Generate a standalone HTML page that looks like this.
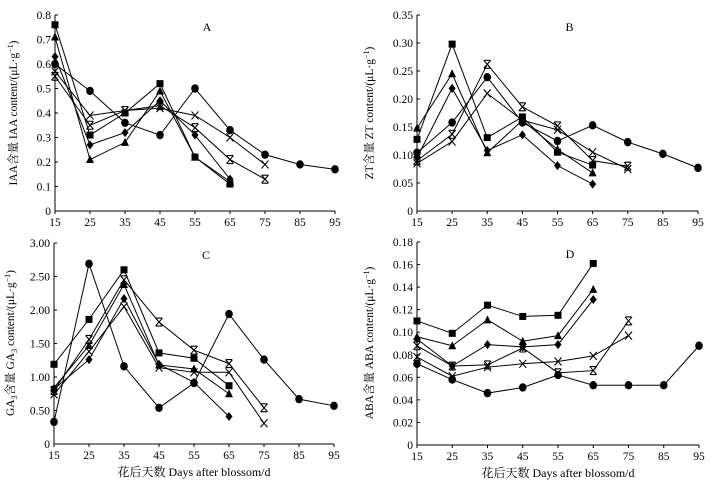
<!DOCTYPE html>
<html><head><meta charset="utf-8"><style>
body{margin:0;background:#fff}
svg text{font-family:"Liberation Serif","Noto Serif CJK SC",serif;fill:#000}
</style></head><body>
<svg id="c" width="716" height="482" viewBox="0 0 716 482"></svg>
<script>
const days=[15,25,35,45,55,65,75,85,95];
const seriesNames=["square","triangle","diamond","circle","cross","asterisk"];
const iaaSquare=[0.76,0.31,0.40,0.52,0.22,0.11];
const iaaTriangle=[0.71,0.21,0.28,0.49,0.22,0.12];
const iaaDiamond=[0.63,0.27,0.32,0.45,0.31,0.13];
const iaaCircle=[0.60,0.49,0.36,0.31,0.50,0.33,0.23,0.19,0.17];
const iaaCross=[0.57,0.39,0.41,0.42,0.39,0.30,0.19];
const iaaAster=[0.55,0.35,0.41,0.43,0.34,0.21,0.13];
const ztSquare=[0.128,0.298,0.131,0.168,0.105,0.082];
const ztTriangle=[0.148,0.245,0.104,0.162,0.110,0.068];
const ztDiamond=[0.095,0.219,0.108,0.136,0.081,0.048];
const ztCircle=[0.104,0.158,0.239,0.158,0.125,0.153,0.123,0.102,0.077];
const ztCross=[0.085,0.124,0.210,0.162,0.145,0.105,0.075];
const ztAster=[0.090,0.137,0.262,0.186,0.152,0.090,0.080];
const gaSquare=[1.19,1.86,2.60,1.36,1.28,0.87];
const gaTriangle=[0.84,1.47,2.38,1.18,1.12,0.75];
const gaDiamond=[0.82,1.26,2.17,1.19,0.92,0.41];
const gaCircle=[0.33,2.69,1.16,0.54,0.91,1.94,1.26,0.67,0.57];
const gaCross=[0.74,1.38,2.05,1.14,1.07,1.07,0.31];
const gaAster=[0.80,1.56,2.45,1.82,1.40,1.20,0.54];
const abaSquare=[0.110,0.099,0.124,0.114,0.115,0.161];
const abaTriangle=[0.096,0.088,0.111,0.092,0.097,0.138];
const abaDiamond=[0.094,0.070,0.089,0.087,0.089,0.129];
const abaCircle=[0.072,0.058,0.046,0.051,0.062,0.053,0.053,0.053,0.088];
const abaCross=[0.078,0.061,0.069,0.072,0.074,0.079,0.097];
const abaAster=[0.088,0.070,0.071,0.086,0.064,0.066,0.110];
const ticksA=["0","0.1","0.2","0.3","0.4","0.5","0.6","0.7","0.8"];
const ticksB=["0","0.05","0.10","0.15","0.20","0.25","0.30","0.35"];
const ticksC=["0","0.50","1.00","1.50","2.00","2.50","3.00"];
const ticksD=["0","0.02","0.04","0.06","0.08","0.10","0.12","0.14","0.16","0.18"];

const NS="http://www.w3.org/2000/svg";
const svg=document.getElementById("c");
function mk(t,a,p){const e=document.createElementNS(NS,t);for(const k in a)e.setAttribute(k,a[k]);(p||svg).appendChild(e);return e;}

function marker(g,type,x,y){
  let e;
  if(type==="square")e=mk("rect",{x:x-3.5,y:y-3.5,width:7,height:7,fill:"#000"},g);
  else if(type==="triangle")e=mk("polygon",{points:`${x},${y-4.5} ${x+4},${y+3.5} ${x-4},${y+3.5}`,fill:"#000"},g);
  else if(type==="diamond")e=mk("polygon",{points:`${x},${y-4.5} ${x+3.5},${y} ${x},${y+4.5} ${x-3.5},${y}`,fill:"#000"},g);
  else if(type==="circle")e=mk("ellipse",{cx:x,cy:y,rx:3.8,ry:4.2,fill:"#000"},g);
  else if(type==="cross")e=mk("path",{d:`M${x-3.5},${y-4}L${x+3.5},${y+4}M${x+3.5},${y-4}L${x-3.5},${y+4}`,stroke:"#000","stroke-width":1.1,fill:"none"},g);
  else e=mk("path",{d:`M${x-3.5},${y-4}L${x+3.5},${y+4}M${x+3.5},${y-4}L${x-3.5},${y+4}M${x-3},${y-4}H${x+3}M${x-3},${y+4}H${x+3}`,stroke:"#000","stroke-width":1.1,fill:"none"},g);
  
  
}

function panel(id,letter,x0,x1,y0,y1,ymax,ticks,data,label,xTitle,lx,ly){
  const g=mk("g",{});
  
  
  const xs=d=>x0+(d-15)/80*(x1-x0);
  const ys=v=>y0-v/ymax*(y0-y1);
  const ax=mk("path",{d:`M${x0},${y1}V${y0}H${x1}`,stroke:"#000","stroke-width":1,fill:"none"},g);
  
  ticks.forEach((t,i)=>{const y=y0-i*(y0-y1)/(ticks.length-1);
    mk("line",{x1:x0,x2:x0+3,y1:y,y2:y,stroke:"#000"},g);
    const tx=mk("text",{x:x0-4,y:y+4,"text-anchor":"end","font-size":11.5},g);tx.textContent=t;
    });
  days.forEach(d=>{const x=xs(d);mk("line",{x1:x,x2:x,y1:y0,y2:y0+3,stroke:"#000"},g);
    const tx=mk("text",{x:x,y:y0+15,"text-anchor":"middle","font-size":11.5},g);tx.textContent=d;
    });
  data.forEach((arr,si)=>{
    const pts=arr.map((v,i)=>xs(days[i])+","+ys(v)).join(" ");
    const pl=mk("polyline",{points:pts,fill:"none",stroke:"#000","stroke-width":1},g);
    
    arr.forEach((v,i)=>marker(g,seriesNames[si],xs(days[i]),ys(v)));
  });
  const L=mk("text",{x:(x0+x1)/2+12,y:y1+16,"font-size":12,"text-anchor":"middle"},g);L.textContent=letter;
  
  const yl=mk("text",{x:0,y:0,"font-size":11.5,"text-anchor":"middle",transform:`translate(${lx},${ly}) rotate(-90)`},g);
  yl.innerHTML=label;
  
  if(xTitle){const xt=mk("text",{x:(x0+x1)/2,y:y0+32,"font-size":12,"text-anchor":"middle"},g);xt.textContent="花后天数 Days after blossom/d";
    }
}
panel("a","A",55,335,211,15,0.8,ticksA,[iaaSquare,iaaTriangle,iaaDiamond,iaaCircle,iaaCross,iaaAster],
 'IAA含量  IAA content/(μL·g<tspan dy="-4" font-size="8">−1</tspan><tspan dy="4">)</tspan>',false,17,113);
panel("b","B",417,698,211,15,0.35,ticksB,[ztSquare,ztTriangle,ztDiamond,ztCircle,ztCross,ztAster],
 'ZT含量  ZT content/(μL·g<tspan dy="-4" font-size="8">−1</tspan><tspan dy="4">)</tspan>',false,373,113);
panel("c","C",54,334,444,243,3,ticksC,[gaSquare,gaTriangle,gaDiamond,gaCircle,gaCross,gaAster],
 'GA<tspan dy="3" font-size="8">3</tspan><tspan dy="-3">含量  GA</tspan><tspan dy="3" font-size="8">3</tspan><tspan dy="-3"> content/(μL·g</tspan><tspan dy="-4" font-size="8">−1</tspan><tspan dy="4">)</tspan>',true,14,343);
panel("d","D",417,699,445,242,0.18,ticksD,[abaSquare,abaTriangle,abaDiamond,abaCircle,abaCross,abaAster],
 'ABA含量  ABA content/(μL·g<tspan dy="-4" font-size="8">−1</tspan><tspan dy="4">)</tspan>',true,373,343);
</script>
</body></html>
